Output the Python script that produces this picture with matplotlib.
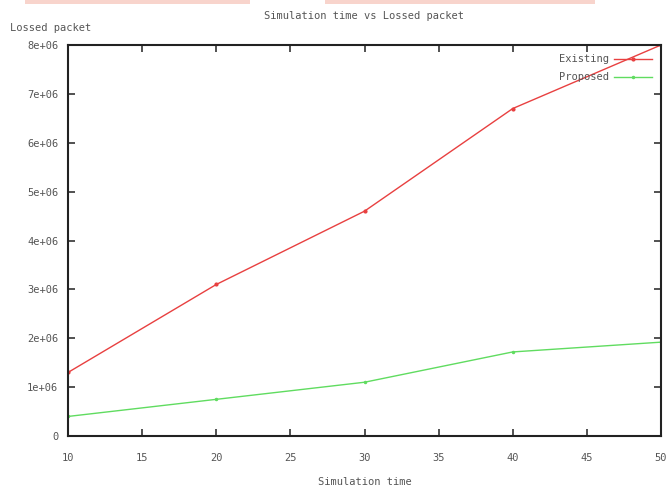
import matplotlib
matplotlib.use('Agg')
import matplotlib.pyplot as plt
from matplotlib.ticker import FuncFormatter, MultipleLocator
from matplotlib.patches import Rectangle

sim_time = [10, 20, 30, 40, 50]
existing = [1.3e6, 3.1e6, 4.6e6, 6.7e6, 8.0e6]
proposed = [0.4e6, 0.75e6, 1.1e6, 1.72e6, 1.92e6]

plt.rcParams['font.family'] = ['DejaVu Sans Mono', 'DejaVu Sans']
plt.rcParams['font.size'] = 7.5

fig = plt.figure(figsize=(6.68, 4.94), dpi=100)
ax = fig.add_axes([68 / 668, 1 - 436 / 494, (661 - 68) / 668, (436 - 45) / 494])

ax.plot(sim_time, existing, color='#e84040', linewidth=1.0,
        marker='.', markersize=4, label='Existing')
ax.plot(sim_time, proposed, color='#60dc60', linewidth=1.0,
        marker='.', markersize=3, label='Proposed')

ax.set_xlim(10, 50)
ax.set_ylim(0, 8e6)
ax.xaxis.set_major_locator(MultipleLocator(5))
ax.yaxis.set_major_locator(MultipleLocator(1e6))


def fmt_y(v, pos):
    if v == 0:
        return '0'
    return f'{int(round(v / 1e6))}e+06'


ax.yaxis.set_major_formatter(FuncFormatter(fmt_y))
ax.tick_params(direction='in', length=5, width=1.2, top=True, right=True,
               colors='#333333', labelcolor='#555555')
ax.tick_params(axis='x', pad=12)
ax.tick_params(axis='y', pad=7)
for sp in ax.spines.values():
    sp.set_linewidth(1.5)
    sp.set_color('#222222')

ax.set_title('Simulation time vs Lossed packet', fontsize=7.5, color='#555555', pad=19)
ax.set_xlabel('Simulation time', fontsize=7.5, color='#555555', labelpad=10)
fig.text(10 / 668, 1 - 28 / 494, 'Lossed packet', fontsize=7.5, color='#555555',
         ha='left', va='center')

leg = ax.legend(loc='upper right', frameon=False, markerfirst=False,
                fontsize=7.5, handlelength=3.6, handletextpad=0.5,
                borderaxespad=0.5, labelspacing=0.75)
for t in leg.get_texts():
    t.set_color('#555555')

# faint pink strip at the very top of the picture
fig.patches.append(Rectangle((25 / 668, 1 - 4 / 494), 225 / 668, 4 / 494,
                             transform=fig.transFigure, color='#f8d4cc',
                             linewidth=0))
fig.patches.append(Rectangle((325 / 668, 1 - 4 / 494), 270 / 668, 4 / 494,
                             transform=fig.transFigure, color='#f8d4cc',
                             linewidth=0))

fig.savefig('out.png', dpi=100)
